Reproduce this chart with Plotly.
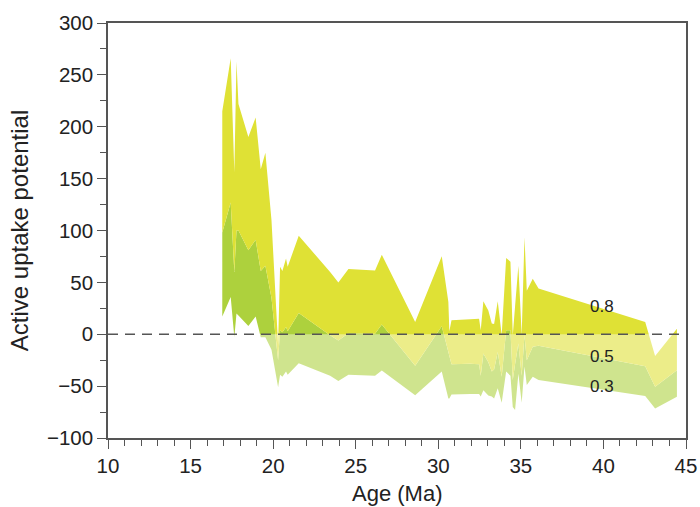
import plotly.graph_objects as go

# Age (Ma) sample points shared by the three curves
ages = [16.92, 17.43, 17.65, 17.78, 17.90, 18.50, 18.94, 19.25, 19.53, 19.90,
        20.30, 20.42, 20.56, 20.78, 20.88, 21.55, 23.45, 23.95, 24.56, 26.17,
        26.58, 28.60, 30.21, 30.61, 30.67, 30.80, 31.93, 32.47, 32.57, 32.73,
        33.03, 33.24, 33.38, 33.60, 33.84, 34.11, 34.37, 34.51, 34.65, 34.85,
        35.05, 35.22, 35.36, 35.72, 36.07, 42.53, 43.13, 44.45]

# curve labelled 0.8 (top)
top_08 = [215, 266, 156, 263, 222, 190, 209, 159, 175, 110,
          -10, 65, 61, 73, 65, 95, 60, 50, 63, 61.5,
          76.6, 11.8, 75.3, 31, 3, 13.5, 14.4, 15, 3.8, 31.7,
          23, 10.3, 10, 31.7, -1, 73.4, 70, -1, 27, 66,
          -1, 93.6, 42, 53.5, 44, 11.8, -21, 5.4]

# curve labelled 0.5 (middle)
mid_05 = [98, 127, 60, 100, 100, 81, 91, 61, 66, 35,
          -25, 4, 2, 7, 3, 20.5, -1, -6, 1, 0.6,
          9.3, -30.4, 7.7, -18.6, -20, -29, -28.5, -28.8, -40, -18.6,
          -27, -36, -34, -17, -41, 3.8, 3.8, -44, -29, -9,
          -40, -1, -25, -12, -11, -30.8, -50.7, -34.6]

# curve labelled 0.3 (bottom)
bot_03 = [17, 36, -3, 20, 18, 8, 17, -3, -3, -15,
          -51, -39, -41, -36, -39, -28, -40, -45, -39, -40,
          -35, -58.7, -36, -62, -62, -58, -57.7, -57.7, -60, -54,
          -59, -60, -62, -52, -66, -36, -40, -70, -73, -38,
          -66, -31, -49, -41, -44, -59.6, -71.5, -60.3]

curve_labels = ["0.8", "0.5", "0.3"]
label_x = [39.9, 39.9, 39.9]
label_y = [27, -21, -50]

x_title = "Age (Ma)"
y_title = "Active uptake potential"

yellow = "#dfe135"
green = "#add13d"

fig = go.Figure()
fig.add_trace(go.Scatter(x=ages, y=bot_03, mode="lines", line=dict(width=0),
                         hoverinfo="skip", showlegend=False))
fig.add_trace(go.Scatter(x=ages, y=mid_05, mode="lines", line=dict(width=0),
                         fill="tonexty", fillcolor=green,
                         hoverinfo="skip", showlegend=False))
fig.add_trace(go.Scatter(x=ages, y=top_08, mode="lines", line=dict(width=0),
                         fill="tonexty", fillcolor=yellow,
                         hoverinfo="skip", showlegend=False))

# fade the part of the bands lying below zero
fig.add_shape(type="rect", xref="x", yref="y",
              x0=min(ages) - 0.05, x1=max(ages) + 0.05, y0=-100, y1=0,
              fillcolor="rgba(255,255,255,0.42)", line=dict(width=0), layer="above")
# dashed zero line
fig.add_shape(type="line", xref="paper", yref="y", x0=0, x1=1, y0=0, y1=0,
              line=dict(color="#555555", width=1.3, dash="10px,7px"), layer="above")

for t, xx, yy in zip(curve_labels, label_x, label_y):
    fig.add_annotation(x=xx, y=yy, text=t, showarrow=False,
                       font=dict(size=17, color="#222222"))

# x-axis title placed as a paper annotation
fig.add_annotation(x=0.5, y=-0.134, xref="paper", yref="paper", text=x_title,
                   showarrow=False, xanchor="center", yanchor="middle",
                   font=dict(size=22, color="#222222"))

axis_common = dict(
    showgrid=False, zeroline=False, showline=True, linecolor="#555555",
    linewidth=1.5, mirror=True, ticks="outside", ticklen=9, tickwidth=1.2,
    tickcolor="#555555", tickfont=dict(size=20.5, color="#222222"),
    automargin=False,
)

fig.update_xaxes(range=[10, 45], tick0=10, dtick=5,
                 minor=dict(dtick=1, ticks="outside", ticklen=6, tickcolor="#555555"),
                 **axis_common)
fig.update_yaxes(range=[-100, 300], tick0=0, dtick=50,
                 minor=dict(dtick=25, ticks="outside", ticklen=6, tickcolor="#555555"),
                 tickformat="d",
                 title=dict(text=y_title, font=dict(size=24, color="#222222"), standoff=12),
                 **axis_common)

fig.update_layout(
    width=700, height=507,
    margin=dict(l=108, r=14, t=23, b=69),
    plot_bgcolor="white", paper_bgcolor="white",
    font=dict(family="Liberation Sans, Arial, sans-serif", color="#222222"),
    showlegend=False,
)

fig.write_html("out.html")
